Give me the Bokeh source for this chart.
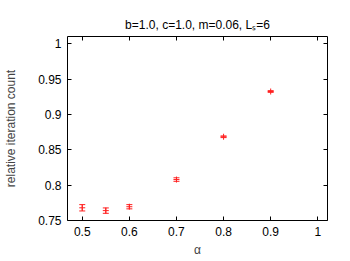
from bokeh.plotting import figure
from bokeh.models import (ColumnDataSource, Whisker, TeeHead, LinearAxis, FixedTicker,
                          Range1d, Title, CustomJSTickFormatter)
from bokeh.embed import file_html
from bokeh.resources import INLINE

# data
alpha = [0.5, 0.55, 0.6, 0.7, 0.8, 0.9]
rel_count = [0.768, 0.764, 0.7695, 0.808, 0.8686, 0.9327]
err = [0.0045, 0.0038, 0.003, 0.0025, 0.0012, 0.0012]

x_ticks = [0.5, 0.6, 0.7, 0.8, 0.9, 1.0]
x_tick_labels = ["0.5", "0.6", "0.7", "0.8", "0.9", "1"]
y_ticks = [0.75, 0.8, 0.85, 0.9, 0.95, 1.0]
y_tick_labels = ["0.75", "0.8", "0.85", "0.9", "0.95", "1"]
title_text = "b=1.0, c=1.0, m=0.06, L\u209b=6"

FONT = "Liberation Sans"
FS = "12px"
RED = "#ff2020"

src = ColumnDataSource(dict(
    x=alpha, y=rel_count,
    lower=[v - e for v, e in zip(rel_count, err)],
    upper=[v + e for v, e in zip(rel_count, err)],
))

p = figure(output_backend="svg", toolbar_location=None,
           frame_width=260, frame_height=184,
           min_border_left=67, min_border_right=9, min_border_top=36, min_border_bottom=38,
           x_range=Range1d(0.4687, 1.0206), y_range=Range1d(0.75, 1.0106),
           x_axis_type=None, y_axis_type=None)
p.grid.visible = False
p.outline_line_color = "black"
p.outline_line_width = 1
p.background_fill_color = "white"
p.border_fill_color = "white"

def style_axis(ax, ticks, labels=None):
    ax.ticker = FixedTicker(ticks=ticks)
    ax.axis_line_color = None
    ax.major_tick_in = 4
    ax.major_tick_out = 0
    ax.minor_tick_line_color = None
    ax.major_tick_line_color = "black"
    ax.major_label_text_font = FONT
    ax.major_label_text_font_size = FS
    ax.major_label_text_color = "black"
    ax.major_label_standoff = 6
    if labels is not None:
        ax.major_label_overrides = {t: l for t, l in zip(ticks, labels)}
    else:
        ax.formatter = CustomJSTickFormatter(code="return ''")
        ax.major_label_standoff = 0

xb = LinearAxis(axis_label="α")
style_axis(xb, x_ticks, x_tick_labels)
xb.axis_label_text_font = FONT
xb.axis_label_text_font_size = FS
xb.axis_label_text_font_style = "normal"
xb.axis_label_standoff = 4
p.add_layout(xb, "below")

yl = LinearAxis(axis_label="relative iteration count")
style_axis(yl, y_ticks, y_tick_labels)
yl.axis_label_text_font = FONT
yl.axis_label_text_font_size = FS
yl.axis_label_text_font_style = "normal"
yl.axis_label_standoff = 17
p.add_layout(yl, "left")

xt = LinearAxis()
style_axis(xt, x_ticks)
p.add_layout(xt, "above")

yr = LinearAxis()
style_axis(yr, y_ticks)
p.add_layout(yr, "right")

p.add_layout(Title(text=title_text, align="center", text_font=FONT, text_font_size=FS,
                   text_font_style="normal", text_color="black", standoff=9), "above")

w = Whisker(source=src, base="x", lower="lower", upper="upper",
            line_color=RED, line_width=1,
            upper_head=TeeHead(size=6, line_color=RED, line_width=1),
            lower_head=TeeHead(size=6, line_color=RED, line_width=1))
p.add_layout(w)
p.scatter("x", "y", source=src, marker="cross", size=6, line_color=RED, line_width=1)

open("out.html", "w").write(file_html(p, INLINE))
